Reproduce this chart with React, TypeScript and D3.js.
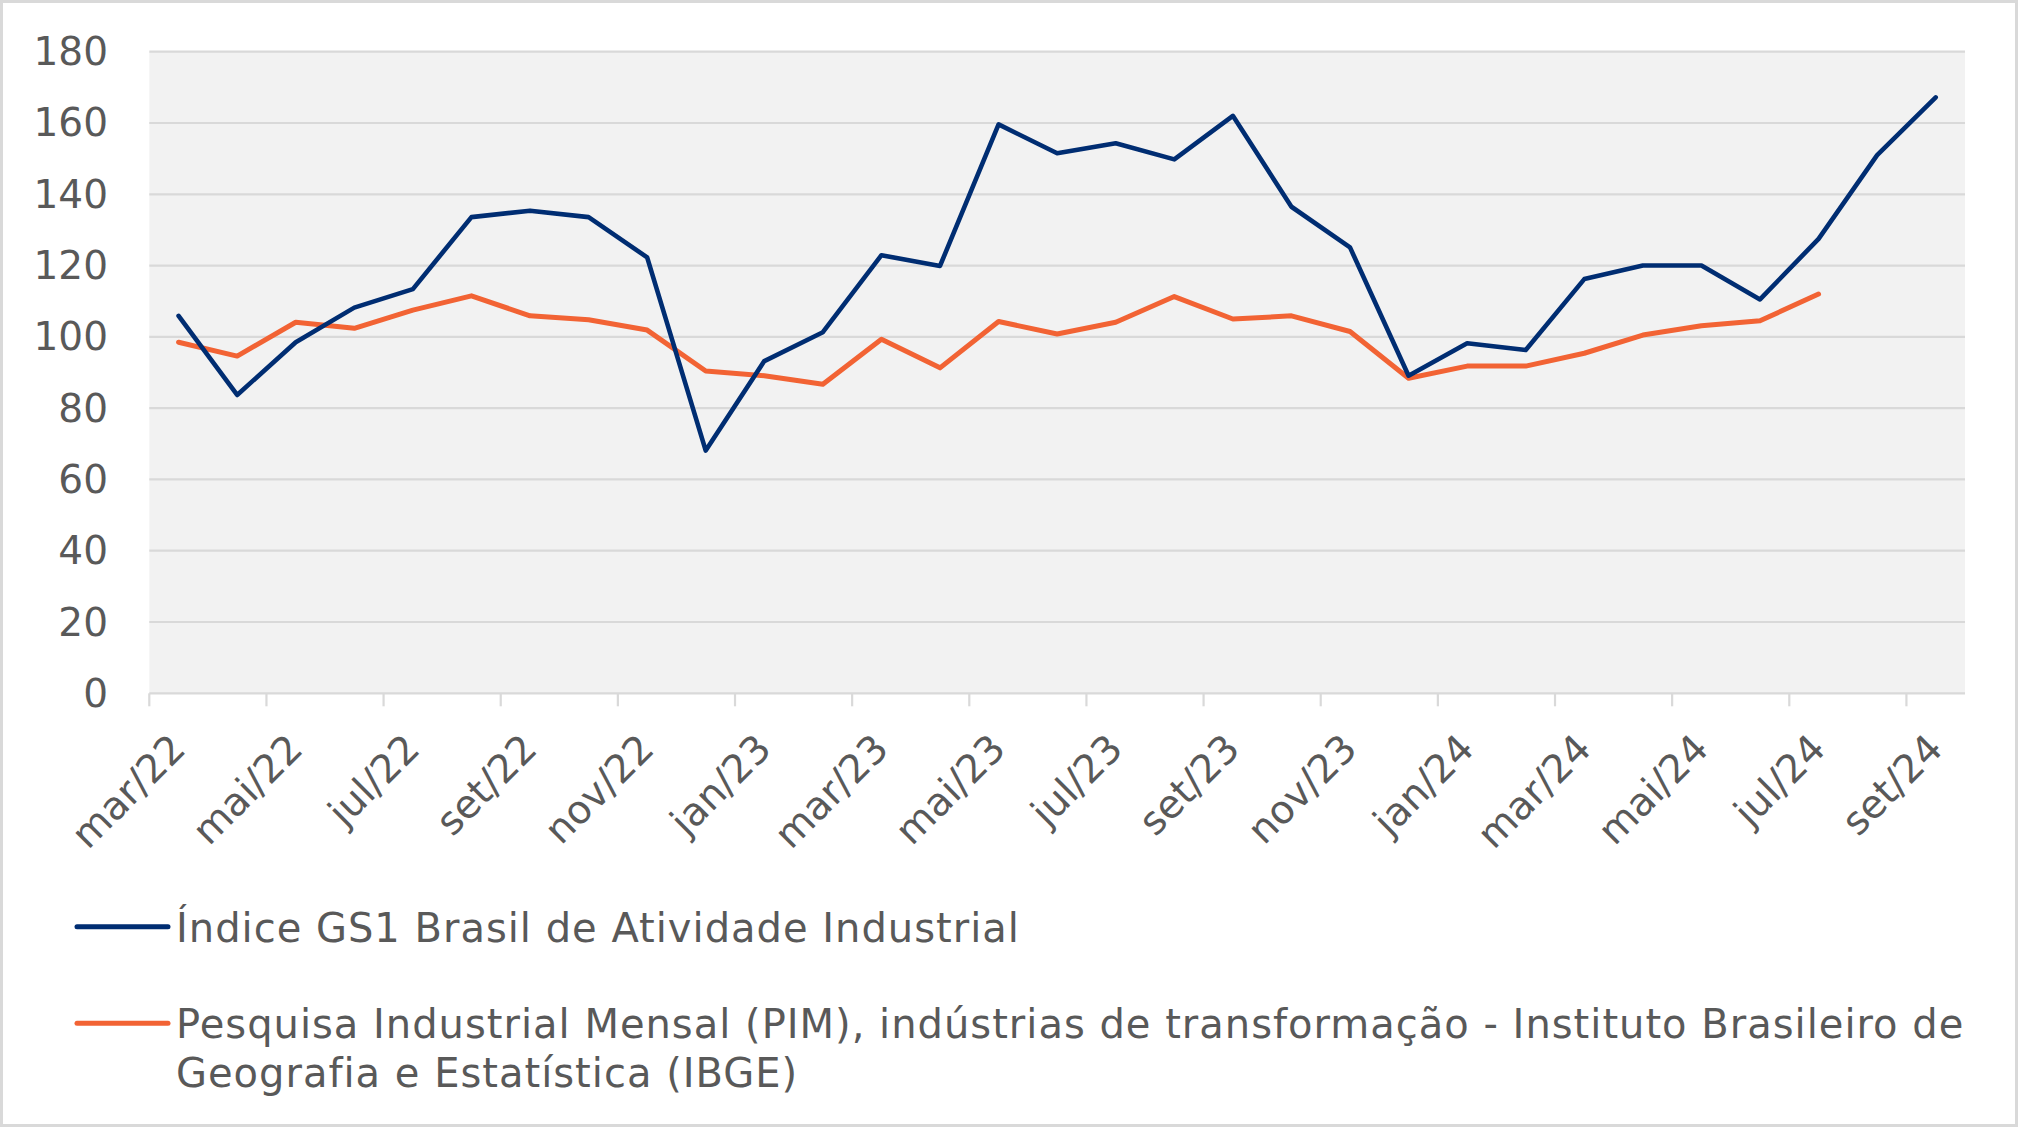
import React from "react";
import * as d3 from "d3";

const months = [
  "mar/22","abr/22","mai/22","jun/22","jul/22","ago/22","set/22","out/22","nov/22","dez/22",
  "jan/23","fev/23","mar/23","abr/23","mai/23","jun/23","jul/23","ago/23","set/23","out/23","nov/23","dez/23",
  "jan/24","fev/24","mar/24","abr/24","mai/24","jun/24","jul/24","ago/24","set/24",
];

const gs1Index: (number | null)[] = [
  105.9, 83.7, 98.5, 108.2, 113.4, 133.6, 135.4, 133.6, 122.3, 68.1,
  93.2, 101.3, 122.9, 119.9, 159.6, 151.5, 154.3, 149.8, 162.0, 136.5, 125.1, 89.1,
  98.2, 96.3, 116.2, 120.0, 120.0, 110.5, 127.5, 151.0, 167.2,
];

const pimIbge: (number | null)[] = [
  98.5, 94.6, 104.1, 102.4, 107.5, 111.5, 105.9, 104.8, 101.9, 90.4,
  89.1, 86.7, 99.3, 91.3, 104.3, 100.8, 104.1, 111.3, 105.0, 105.9, 101.5, 88.4,
  91.8, 91.8, 95.4, 100.5, 103.1, 104.5, 112.0, null, null,
];

const yTicks = [0, 20, 40, 60, 80, 100, 120, 140, 160, 180];

const legendGs1 = ["Índice GS1 Brasil de Atividade Industrial"];
const legendPim = [
  "Pesquisa Industrial Mensal (PIM), indústrias de transformação - Instituto Brasileiro de",
  "Geografia e Estatística (IBGE)",
];

const W = 2018;
const H = 1127;
const FONT = "'DejaVu Sans', Verdana, sans-serif";
const TEXT = "#595959";
const GRID = "#d9d9d9";
const BLUE = "#002d72";
const ORANGE = "#f26334";

export default function App() {
  const left = 149.3;
  const right = 1965;
  const top = 51.7;
  const bottom = 693.3;

  const x = d3.scaleBand<string>().domain(months).range([left, right]).padding(0);
  const y = d3.scaleLinear().domain([0, 180]).range([bottom, top]);
  const cx = (m: string) => (x(m) as number) + x.bandwidth() / 2;

  const line = d3
    .line<number | null>()
    .defined((d) => d != null)
    .x((_, i) => cx(months[i]))
    .y((d) => y(d as number));

  const labelIdx = months.map((_, i) => i).filter((i) => i % 2 === 0);

  const legendRows = [
    { color: BLUE, lines: legendGs1, y0: 941.7 },
    { color: ORANGE, lines: legendPim, y0: 1038.3 },
  ];

  return (
    <svg
      width={W}
      height={H}
      style={{ position: "absolute", left: 0, top: 0, background: "#fff" }}
      fontFamily={FONT}
    >
      <rect x={1.5} y={1.5} width={W - 3} height={H - 3} fill="#fff" stroke={GRID} strokeWidth={3} />
      <rect x={left} y={top} width={right - left} height={bottom - top} fill="#f2f2f2" />
      {yTicks.map((t) => (
        <line key={"g" + t} x1={left} x2={right} y1={y(t)} y2={y(t)} stroke={GRID} strokeWidth={2.2} />
      ))}
      {labelIdx.map((i) => (
        <line
          key={"t" + i}
          x1={x(months[i]) as number}
          x2={x(months[i]) as number}
          y1={bottom}
          y2={bottom + 13}
          stroke={GRID}
          strokeWidth={2.2}
        />
      ))}
      {yTicks.map((t) => (
        <text
          key={"yl" + t}
          x={108}
          y={y(t)}
          textAnchor="end"
          dominantBaseline="central"
          fontSize={39}
          fill={TEXT}
        >
          {t}
        </text>
      ))}
      {labelIdx.map((i) => {
        const ax = cx(months[i]) + 9;
        const ay = 751;
        return (
          <text
            key={"xl" + i}
            transform={`translate(${ax},${ay}) rotate(-45)`}
            textAnchor="end"
            fontSize={39}
            fill={TEXT}
          >
            {months[i]}
          </text>
        );
      })}
      <path d={line(pimIbge) || ""} fill="none" stroke={ORANGE} strokeWidth={5} strokeLinejoin="round" strokeLinecap="round" />
      <path d={line(gs1Index) || ""} fill="none" stroke={BLUE} strokeWidth={4.6} strokeLinejoin="round" strokeLinecap="round" />
      {legendRows.map((r, k) => (
        <g key={"lg" + k}>
          <line
            x1={77}
            x2={168}
            y1={r.y0 - 15}
            y2={r.y0 - 15}
            stroke={r.color}
            strokeWidth={5}
            strokeLinecap="round"
          />
          <text x={176} y={r.y0} fontSize={40} letterSpacing={1} fill={TEXT}>
            {r.lines.map((s, j) => (
              <tspan key={j} x={176} y={r.y0 + j * 48.4}>
                {s}
              </tspan>
            ))}
          </text>
        </g>
      ))}
    </svg>
  );
}
